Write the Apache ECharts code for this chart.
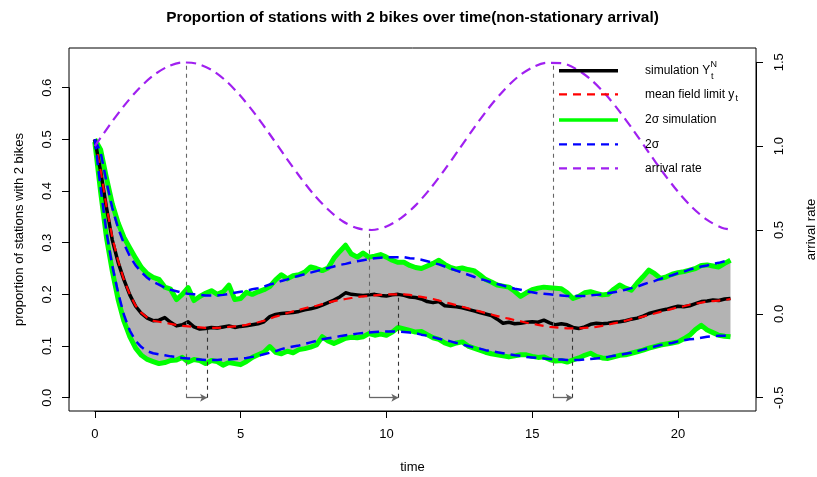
<!DOCTYPE html>
<html>
<head>
<meta charset="utf-8">
<script src="https://cdn.jsdelivr.net/npm/echarts@6/dist/echarts.min.js"></script>
<style>html,body{margin:0;padding:0;background:#fff;}#c{width:817px;height:477px;}</style>
</head>
<body>
<div id="c"></div>
<script>
// ---- data ----
const time = [0,0.2,0.4,0.6,0.8,1,1.2,1.4,1.6,1.8,2,2.2,2.4,2.6,2.8,3,3.2,3.4,3.6,3.8,4,4.2,4.4,4.6,4.8,5,5.2,5.4,5.6,5.8,6,6.2,6.4,6.6,6.8,7,7.2,7.4,7.6,7.8,8,8.2,8.4,8.6,8.8,9,9.2,9.4,9.6,9.8,10,10.2,10.4,10.6,10.8,11,11.2,11.4,11.6,11.8,12,12.2,12.4,12.6,12.8,13,13.2,13.4,13.6,13.8,14,14.2,14.4,14.6,14.8,15,15.2,15.4,15.6,15.8,16,16.2,16.4,16.6,16.8,17,17.2,17.4,17.6,17.8,18,18.2,18.4,18.6,18.8,19,19.2,19.4,19.6,19.8,20,20.2,20.4,20.6,20.8,21,21.2,21.4,21.6,21.8];

const simulation = [0.500,0.438,0.368,0.305,0.262,0.228,0.199,0.177,0.163,0.154,0.149,0.150,0.155,0.146,0.139,0.141,0.147,0.137,0.133,0.134,0.136,0.135,0.137,0.139,0.136,0.138,0.139,0.141,0.143,0.147,0.157,0.161,0.163,0.164,0.165,0.167,0.170,0.172,0.175,0.179,0.184,0.189,0.195,0.203,0.200,0.199,0.198,0.199,0.200,0.198,0.197,0.199,0.200,0.198,0.195,0.194,0.191,0.186,0.184,0.186,0.178,0.177,0.176,0.174,0.171,0.168,0.165,0.162,0.159,0.152,0.144,0.146,0.143,0.144,0.146,0.147,0.146,0.150,0.145,0.141,0.143,0.141,0.136,0.134,0.137,0.142,0.144,0.143,0.144,0.146,0.147,0.149,0.152,0.154,0.158,0.163,0.166,0.169,0.171,0.174,0.177,0.176,0.178,0.182,0.186,0.187,0.189,0.188,0.191,0.192];

const meanField = [0.500,0.440,0.370,0.310,0.265,0.228,0.200,0.178,0.164,0.155,0.149,0.147,0.145,0.143,0.141,0.139,0.138,0.137,0.136,0.135,0.135,0.135,0.136,0.137,0.138,0.139,0.141,0.144,0.146,0.149,0.153,0.157,0.160,0.164,0.167,0.170,0.173,0.176,0.178,0.181,0.184,0.187,0.189,0.191,0.193,0.195,0.196,0.197,0.198,0.199,0.200,0.200,0.200,0.200,0.199,0.197,0.195,0.193,0.191,0.188,0.185,0.182,0.179,0.176,0.173,0.170,0.167,0.164,0.161,0.158,0.155,0.153,0.150,0.148,0.145,0.143,0.141,0.139,0.137,0.136,0.135,0.134,0.134,0.134,0.135,0.136,0.137,0.139,0.141,0.144,0.146,0.149,0.152,0.154,0.157,0.160,0.163,0.166,0.169,0.172,0.175,0.177,0.180,0.182,0.184,0.186,0.187,0.188,0.189,0.191];

const simUpper = [0.500,0.480,0.425,0.375,0.338,0.310,0.290,0.270,0.252,0.240,0.233,0.229,0.214,0.210,0.190,0.200,0.213,0.188,0.196,0.202,0.207,0.200,0.205,0.218,0.190,0.192,0.204,0.200,0.205,0.209,0.215,0.228,0.238,0.230,0.236,0.238,0.243,0.253,0.250,0.246,0.251,0.270,0.283,0.295,0.278,0.272,0.280,0.272,0.274,0.277,0.272,0.266,0.262,0.262,0.256,0.252,0.250,0.255,0.260,0.266,0.258,0.252,0.249,0.251,0.248,0.246,0.238,0.229,0.224,0.218,0.216,0.214,0.206,0.196,0.203,0.209,0.212,0.214,0.213,0.212,0.211,0.203,0.192,0.196,0.203,0.205,0.202,0.199,0.200,0.210,0.218,0.212,0.208,0.222,0.234,0.247,0.240,0.231,0.234,0.239,0.242,0.244,0.247,0.250,0.256,0.257,0.255,0.253,0.260,0.266];

const simLower = [0.495,0.398,0.310,0.245,0.190,0.148,0.118,0.096,0.082,0.074,0.070,0.066,0.068,0.072,0.073,0.078,0.069,0.074,0.072,0.066,0.072,0.070,0.063,0.068,0.066,0.064,0.070,0.078,0.083,0.088,0.099,0.088,0.085,0.090,0.087,0.093,0.095,0.098,0.102,0.118,0.110,0.105,0.110,0.115,0.117,0.116,0.118,0.124,0.121,0.123,0.121,0.127,0.136,0.133,0.130,0.127,0.128,0.122,0.116,0.113,0.106,0.102,0.106,0.108,0.100,0.096,0.092,0.088,0.085,0.083,0.081,0.079,0.081,0.083,0.083,0.080,0.078,0.079,0.074,0.071,0.072,0.069,0.073,0.077,0.082,0.086,0.080,0.077,0.076,0.079,0.082,0.083,0.086,0.089,0.092,0.096,0.099,0.102,0.104,0.106,0.108,0.114,0.121,0.132,0.140,0.131,0.126,0.121,0.119,0.118];

const sigmaUpper = [0.500,0.475,0.418,0.367,0.328,0.298,0.274,0.256,0.243,0.232,0.224,0.219,0.213,0.209,0.206,0.203,0.201,0.200,0.199,0.198,0.198,0.198,0.199,0.201,0.203,0.205,0.207,0.210,0.212,0.215,0.219,0.222,0.226,0.229,0.233,0.236,0.239,0.242,0.245,0.248,0.251,0.254,0.257,0.259,0.262,0.264,0.266,0.268,0.270,0.271,0.272,0.272,0.272,0.272,0.270,0.269,0.267,0.264,0.261,0.258,0.254,0.250,0.246,0.242,0.238,0.234,0.230,0.227,0.223,0.220,0.217,0.214,0.211,0.209,0.206,0.204,0.202,0.201,0.200,0.199,0.198,0.197,0.197,0.197,0.197,0.198,0.199,0.200,0.202,0.204,0.206,0.209,0.212,0.215,0.219,0.223,0.226,0.230,0.234,0.237,0.241,0.244,0.248,0.251,0.254,0.256,0.259,0.261,0.264,0.266];

const sigmaLower = [0.500,0.405,0.320,0.255,0.203,0.160,0.130,0.110,0.098,0.090,0.086,0.084,0.082,0.080,0.079,0.077,0.076,0.075,0.074,0.073,0.073,0.073,0.074,0.074,0.075,0.076,0.077,0.079,0.081,0.084,0.087,0.090,0.094,0.097,0.099,0.101,0.104,0.107,0.110,0.113,0.115,0.117,0.119,0.121,0.122,0.124,0.125,0.126,0.127,0.128,0.128,0.128,0.128,0.127,0.126,0.125,0.122,0.120,0.117,0.114,0.112,0.109,0.106,0.103,0.100,0.097,0.095,0.092,0.090,0.088,0.086,0.084,0.082,0.081,0.079,0.078,0.077,0.076,0.075,0.074,0.074,0.073,0.073,0.073,0.074,0.075,0.076,0.077,0.079,0.081,0.083,0.085,0.087,0.090,0.093,0.096,0.099,0.102,0.104,0.106,0.109,0.111,0.113,0.114,0.116,0.118,0.119,0.120,0.120,0.121];

const arrivalTime = [0,0.5,1,1.5,2,2.5,3,3.5,4,4.5,5,5.5,6,6.5,7,7.5,8,8.5,9,9.5,10,10.5,11,11.5,12,12.5,13,13.5,14,14.5,15,15.5,16,16.5,17,17.5,18,18.5,19,19.5,20,20.5,21,21.5,21.8];
const arrivalRate = [1.000,1.124,1.240,1.341,1.421,1.474,1.499,1.492,1.455,1.389,1.299,1.191,1.071,0.946,0.825,0.714,0.622,0.552,0.511,0.500,0.521,0.571,0.647,0.746,0.860,0.983,1.108,1.225,1.328,1.412,1.469,1.497,1.495,1.461,1.399,1.312,1.206,1.087,0.962,0.840,0.728,0.633,0.560,0.514,0.502];

// annotation marks
const extremeTime = [3.14, 9.42, 15.71];
const extremeRate = [1.5, 0.5, 1.5];
const responseTime = [3.85, 10.41, 16.39];
const responseValue = [0.135, 0.200, 0.134];

// axis ticks
const xTicks = [0, 5, 10, 15, 20];
const yLeftTicks = [0, 0.1, 0.2, 0.3, 0.4, 0.5, 0.6];
const yRightTicks = [-0.5, 0, 0.5, 1.0, 1.5];

const legendNames = ['simulation Y', 'mean field limit y', '2\u03c3 simulation', '2\u03c3', 'arrival rate'];

// ---- chart ----
const FONT = 'Liberation Sans, Arial, Helvetica, sans-serif';
const pair = (xs, ys) => xs.map((x, i) => [x, ys[i]]);
const chart = echarts.init(document.getElementById('c'), null, {renderer: 'canvas'});

const plotL = 69, plotR = 756, plotT = 48, plotB = 411;
const W = 817, H = 477;

const markLineData1 = extremeTime.map((t, i) => [
  {coord: [t, -0.5], symbol: 'none'},
  {coord: [t, extremeRate[i]], symbol: 'none'}
]);
const markLineData2 = responseTime.map((t, i) => [
  {coord: [t, 0], symbol: 'none'},
  {coord: [t, responseValue[i]], symbol: 'none'}
]);
const arrowData = extremeTime.map((t, i) => [
  {coord: [t, 0], symbol: 'none'},
  {coord: [responseTime[i], 0], symbol: 'arrow', symbolSize: [6, 7]}
]);

const dashedLine = (name, xs, ys, color, width, dash, yAxisIndex) => ({
  name, type: 'line', xAxisIndex: 0, yAxisIndex: yAxisIndex || 0,
  data: pair(xs, ys), symbol: 'none', silent: true, animation: false,
  lineStyle: {color, width, type: dash, cap: 'butt', join: 'round'}, z: 5
});

const hiddenAxis = (grid) => ({type: 'value', gridIndex: grid, min: 0, max: 1, show: false});

const option = {
  animation: false,
  grid: [
    {left: plotL, right: W - plotR, top: plotT, bottom: H - plotB, show: true, borderColor: '#000', borderWidth: 1, backgroundColor: 'transparent', z: 10},
    {left: plotL, right: W - plotR, top: 87.7, bottom: H - 397.7, show: false},
    {left: plotL, right: W - plotR, top: 62.3, bottom: H - 397.7, show: false},
    {left: 94.8, right: W - 678.1, top: plotT, bottom: H - plotB, show: false}
  ],
  xAxis: [
    {type: 'value', gridIndex: 0, min: -0.885, max: 22.675, show: false},
    hiddenAxis(1),
    hiddenAxis(2),
    {type: 'value', gridIndex: 3, min: xTicks[0], max: xTicks[xTicks.length - 1], interval: 5, position: 'bottom',
     axisLine: {show: true, onZero: false, lineStyle: {color: '#000', width: 1}},
     axisTick: {show: true, length: 7, inside: false, lineStyle: {color: '#000'}},
     axisLabel: {show: true, margin: 17, color: '#000', fontSize: 13, fontFamily: FONT},
     splitLine: {show: false}}
  ],
  yAxis: [
    {type: 'value', gridIndex: 0, min: -0.02574, max: 0.6768, show: false},
    {type: 'value', gridIndex: 0, min: -0.5793, max: 1.5853, show: false},
    {type: 'value', gridIndex: 1, min: yLeftTicks[0], max: yLeftTicks[yLeftTicks.length - 1], interval: 0.1, position: 'left',
     axisLine: {show: true, onZero: false, lineStyle: {color: '#000', width: 1}},
     axisTick: {show: true, length: 7, lineStyle: {color: '#000'}},
     axisLabel: {show: true, rotate: 90, margin: 15, color: '#000', fontSize: 13, fontFamily: FONT,
       formatter: v => v.toFixed(1)},
     splitLine: {show: false}},
    {type: 'value', gridIndex: 2, min: yRightTicks[0], max: yRightTicks[yRightTicks.length - 1], interval: 0.5, position: 'right',
     axisLine: {show: true, onZero: false, lineStyle: {color: '#000', width: 1}},
     axisTick: {show: true, length: 7, lineStyle: {color: '#000'}},
     axisLabel: {show: true, rotate: 90, margin: 17, color: '#000', fontSize: 13, fontFamily: FONT,
       formatter: v => v.toFixed(1)},
     splitLine: {show: false}},
    hiddenAxis(3)
  ],
  series: [
    {
      type: 'custom', xAxisIndex: 0, yAxisIndex: 0, silent: true, z: 1,
      data: pair(time, simLower),
      encode: {x: 0, y: 1},
      renderItem: function (params, api) {
        if (params.dataIndex !== 0) return null;
        const pts = [];
        for (let i = 0; i < time.length; i++) pts.push(api.coord([time[i], simUpper[i]]));
        for (let i = time.length - 1; i >= 0; i--) pts.push(api.coord([time[i], simLower[i]]));
        return {type: 'polygon', shape: {points: pts}, style: {fill: '#B3B3B3', stroke: null}};
      }
    },
    {name: '2\u03c3 simulation', type: 'line', xAxisIndex: 0, yAxisIndex: 0, data: pair(time, simUpper), symbol: 'none', silent: true,
     lineStyle: {color: '#00FF00', width: 5, join: 'round'}, z: 2},
    {name: '2\u03c3 simulation', type: 'line', xAxisIndex: 0, yAxisIndex: 0, data: pair(time, simLower), symbol: 'none', silent: true,
     lineStyle: {color: '#00FF00', width: 5, join: 'round'}, z: 2},
    {name: 'simulation', type: 'line', xAxisIndex: 0, yAxisIndex: 0, data: pair(time, simulation), symbol: 'none', silent: true,
     lineStyle: {color: '#000000', width: 3.5, join: 'round'}, z: 3},
    Object.assign(dashedLine('mean field', time, meanField, '#FF0000', 2.2, [9, 6], 0), {
      markLine: {silent: true, animation: false, symbol: ['none', 'none'], label: {show: false},
        lineStyle: {color: '#333', width: 1.1, type: [4, 4]}, data: markLineData2}
    }),
    dashedLine('2\u03c3', time, sigmaUpper, '#0000FF', 2.5, [10, 6], 0),
    Object.assign(dashedLine('2\u03c3', time, sigmaLower, '#0000FF', 2.5, [10, 6], 0), {
      markLine: {silent: true, animation: false, label: {show: false},
        lineStyle: {color: '#666', width: 1.3, type: 'solid'}, data: arrowData}
    }),
    Object.assign(dashedLine('arrival rate', arrivalTime, arrivalRate, '#A020F0', 2.2, [10, 6], 1), {
      smooth: 0.3,
      markLine: {silent: true, animation: false, symbol: ['none', 'none'], label: {show: false},
        lineStyle: {color: '#666', width: 1.1, type: [4, 4]}, data: markLineData1}
    })
  ],
  graphic: [
    {type: 'text', z: 100, position: [412.5, 18], style: {text: 'Proportion of stations with 2 bikes over time(non-stationary arrival)',
      font: 'bold 15.4px ' + FONT, fill: '#000', textAlign: 'center', textVerticalAlign: 'middle'}},
    {type: 'text', z: 100, position: [412.5, 467], style: {text: 'time', font: '13px ' + FONT, fill: '#000', textAlign: 'center', textVerticalAlign: 'middle'}},
    {type: 'text', z: 100, position: [19, 229.5], rotation: Math.PI / 2, style: {text: 'proportion of stations with 2 bikes', font: '13px ' + FONT, fill: '#000', textAlign: 'center', textVerticalAlign: 'middle'}},
    {type: 'text', z: 100, position: [811, 229.5], rotation: Math.PI / 2, style: {text: 'arrival rate', font: '13px ' + FONT, fill: '#000', textAlign: 'center', textVerticalAlign: 'middle'}},
    // legend
    {type: 'line', z: 100, shape: {x1: 559, y1: 70.7, x2: 618, y2: 70.7}, style: {stroke: '#000', lineWidth: 3.5}},
    {type: 'line', z: 100, shape: {x1: 559, y1: 94.3, x2: 618, y2: 94.3}, style: {stroke: '#FF0000', lineWidth: 2.2, lineDash: [8, 6]}},
    {type: 'line', z: 100, shape: {x1: 559, y1: 120, x2: 618, y2: 120}, style: {stroke: '#00FF00', lineWidth: 3.5}},
    {type: 'line', z: 100, shape: {x1: 559, y1: 144.3, x2: 618, y2: 144.3}, style: {stroke: '#0000FF', lineWidth: 2.2, lineDash: [8, 6]}},
    {type: 'line', z: 100, shape: {x1: 559, y1: 168.3, x2: 618, y2: 168.3}, style: {stroke: '#A020F0', lineWidth: 2.2, lineDash: [8, 6]}},
    {type: 'text', z: 100, position: [645, 70.7], style: {text: legendNames[0], font: '12px ' + FONT, fill: '#000', textVerticalAlign: 'middle'}},
    {type: 'text', z: 100, position: [710.5, 64.5], style: {text: 'N', font: '9px ' + FONT, fill: '#000', textVerticalAlign: 'middle'}},
    {type: 'text', z: 100, position: [711, 76.5], style: {text: 't', font: '9px ' + FONT, fill: '#000', textVerticalAlign: 'middle'}},
    {type: 'text', z: 100, position: [645, 94.3], style: {text: legendNames[1], font: '12px ' + FONT, fill: '#000', textVerticalAlign: 'middle'}},
    {type: 'text', z: 100, position: [735.5, 98.5], style: {text: 't', font: '9px ' + FONT, fill: '#000', textVerticalAlign: 'middle'}},
    {type: 'text', z: 100, position: [645, 120], style: {text: legendNames[2], font: '12px ' + FONT, fill: '#000', textVerticalAlign: 'middle'}},
    {type: 'text', z: 100, position: [645, 144.3], style: {text: legendNames[3], font: '12px ' + FONT, fill: '#000', textVerticalAlign: 'middle'}},
    {type: 'text', z: 100, position: [645, 168.3], style: {text: legendNames[4], font: '12px ' + FONT, fill: '#000', textVerticalAlign: 'middle'}}
  ]
};
chart.setOption(option);
</script>
</body>
</html>
